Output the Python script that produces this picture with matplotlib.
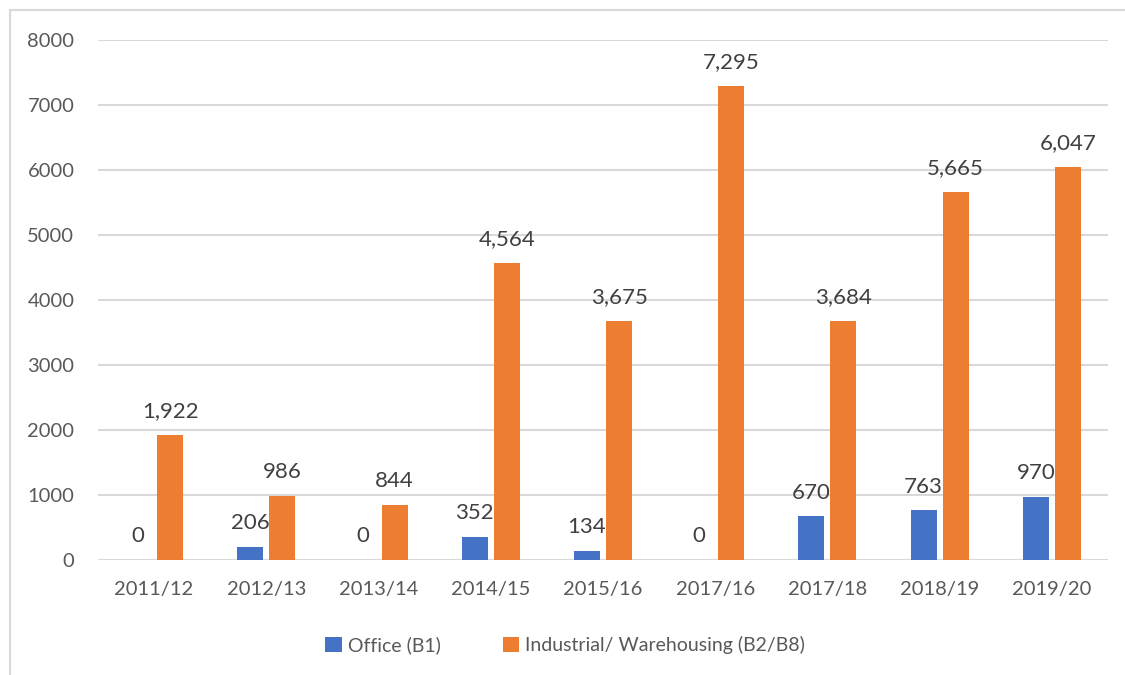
import matplotlib
matplotlib.use("Agg")
import matplotlib.pyplot as plt
import numpy as np
from matplotlib.patches import Rectangle

years = ["2011/12", "2012/13", "2013/14", "2014/15", "2015/16",
         "2017/16", "2017/18", "2018/19", "2019/20"]
office = [0, 206, 0, 352, 134, 0, 670, 763, 970]
industrial = [1922, 986, 844, 4564, 3675, 7295, 3684, 5665, 6047]
series_names = ["Office (B1)", "Industrial/ Warehousing (B2/B8)"]

BLUE = "#4472C4"
ORANGE = "#ED7D31"
GRID = "#D9D9D9"
TICK = "#595959"
LABEL = "#404040"

plt.rcParams["font.family"] = ["Lato", "DejaVu Sans"]

fig = plt.figure(figsize=(11.25, 6.75), dpi=100)
ax = fig.add_axes([98 / 1125, 1 - 560 / 675, 1010 / 1125, 520 / 675])

# chart border, Excel style (right and bottom edges fall outside the image)
fig.patches.append(Rectangle((10 / 1125, -0.2), 1.2, 1.2 - 10 / 675,
                             transform=fig.transFigure, fill=False,
                             edgecolor=GRID, linewidth=1.5))

x = np.arange(len(years))
w = 0.232
gap = 0.053
off = (w + gap) / 2
b1 = ax.bar(x - off, office, w, color=BLUE, label=series_names[0])
b2 = ax.bar(x + off, industrial, w, color=ORANGE, label=series_names[1])

for bars, vals in ((b1, office), (b2, industrial)):
    for rect, v in zip(bars, vals):
        ax.annotate(f"{v:,}", (rect.get_x() + rect.get_width() / 2, v),
                    xytext=(0, 10), textcoords="offset points",
                    ha="center", va="bottom", fontsize=16, color=LABEL)

ax.set_xlim(-0.5, len(years) - 0.5)
ax.set_ylim(0, 8000)
ax.set_yticks(range(0, 8001, 1000))
ax.set_xticks(x)
ax.set_xticklabels(years)
ax.tick_params(axis="both", length=0, labelsize=14.5, labelcolor=TICK)
ax.tick_params(axis="y", pad=17)
ax.tick_params(axis="x", pad=15)
ax.grid(axis="y", color=GRID, linewidth=1.5)
ax.set_axisbelow(True)
for s in ax.spines.values():
    s.set_visible(False)

fig.legend(handles=[b1, b2], loc="center", bbox_to_anchor=(565 / 1125, 1 - 645 / 675),
           ncol=2, frameon=False, fontsize=14, labelcolor=TICK,
           handlelength=0.85, handleheight=0.85, handletextpad=0.3, columnspacing=3.2)

fig.savefig("out.png", dpi=100)
